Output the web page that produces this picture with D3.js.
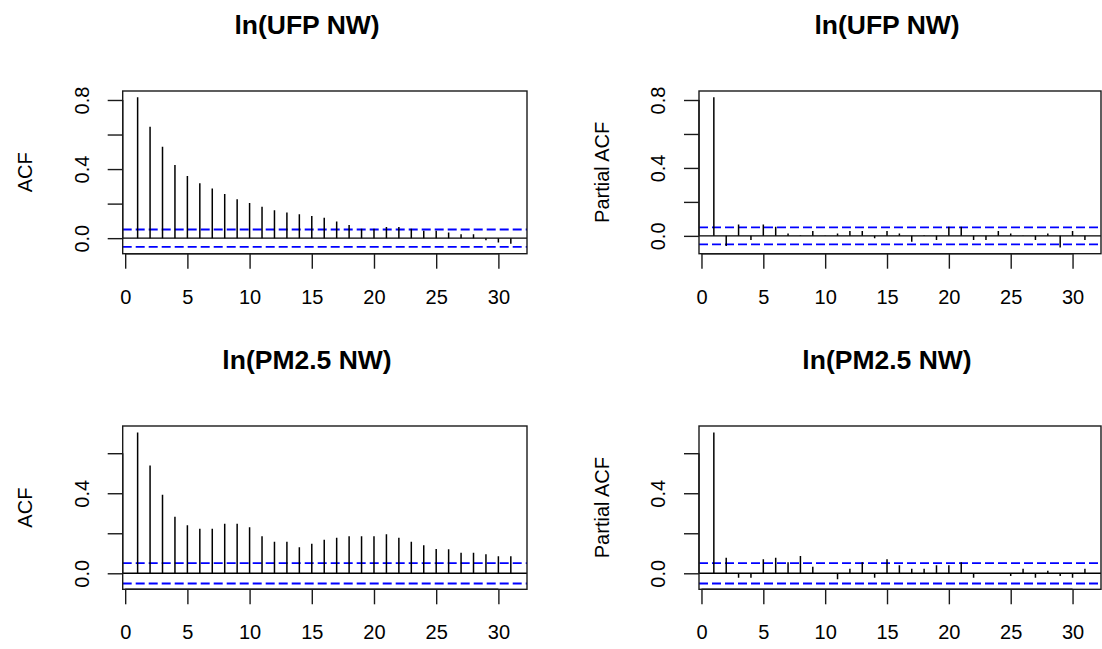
<!DOCTYPE html>
<html>
<head>
<meta charset="utf-8">
<script src="https://cdn.jsdelivr.net/npm/d3@7"></script>
<style>
  html, body { margin: 0; padding: 0; background: #fff; }
  svg { display: block; }
  text { font-family: "Liberation Sans", Arial, sans-serif; fill: #000; }
</style>
</head>
<body>
<svg id="chart" width="1102" height="649"></svg>
<script>
// ---- data ----
const lags = [1, 2, 3, 4, 5, 6, 7, 8, 9, 10, 11, 12, 13, 14, 15, 16, 17, 18, 19, 20, 21, 22, 23, 24, 25, 26, 27, 28, 29, 30, 31];
const xTickValues = [0, 5, 10, 15, 20, 25, 30];

const titles = ["ln(UFP NW)", "ln(UFP NW)", "ln(PM2.5 NW)", "ln(PM2.5 NW)"];
const yAxisTitles = ["ACF", "Partial ACF", "ACF", "Partial ACF"];

const acfUFP = [0.816, 0.645, 0.529, 0.424, 0.360, 0.318, 0.287, 0.256, 0.225, 0.203, 0.182, 0.161, 0.149, 0.139, 0.128, 0.118, 0.097, 0.076, 0.055, 0.055, 0.064, 0.064, 0.055, 0.043, 0.043, 0.033, 0.022, 0.022, -0.012, -0.025, -0.033];
const pacfUFP = [0.816, -0.059, 0.067, -0.025, 0.067, 0.053, 0.014, 0.003, 0.028, 0.002, 0.014, 0.028, 0.028, -0.014, 0.028, 0.014, -0.035, 0.003, -0.025, 0.053, 0.053, -0.025, -0.025, 0.028, 0.014, 0.002, -0.025, 0.014, -0.068, 0.028, -0.025];
const acfPM = [0.703, 0.538, 0.393, 0.283, 0.240, 0.222, 0.222, 0.248, 0.248, 0.230, 0.185, 0.158, 0.158, 0.130, 0.148, 0.167, 0.177, 0.185, 0.185, 0.185, 0.195, 0.177, 0.158, 0.140, 0.122, 0.120, 0.103, 0.103, 0.095, 0.085, 0.085];
const pacfPM = [0.703, 0.078, -0.022, -0.022, 0.070, 0.078, 0.055, 0.087, 0.033, 0.002, -0.030, 0.023, 0.055, -0.022, 0.070, 0.040, 0.023, 0.023, 0.040, 0.040, 0.055, -0.022, 0.002, 0.002, -0.013, 0.023, -0.022, 0.013, -0.013, -0.022, 0.023];

const ciBounds = [0.050, 0.050, 0.051, 0.051];
const yLimits = [[-0.090, 0.852], [-0.105, 0.853], [-0.080, 0.736], [-0.080, 0.736]];
const xLimits = [-0.2, 32.3];

const yTicksUpper = [0, 0.2, 0.4, 0.6, 0.8];
const yTickLabelsUpper = ["0.0", "", "0.4", "", "0.8"];
const yTicksLower = [0, 0.2, 0.4, 0.6];
const yTickLabelsLower = ["0.0", "", "0.4", ""];

// ---- layout (pixels) ----
const boxes = [
  { x0: 122.7, x1: 527, y0: 91, y1: 253.7, titleX: 307, titleY: 33.5 },
  { x0: 699, x1: 1101, y0: 91, y1: 253.7, titleX: 887, titleY: 33.5 },
  { x0: 122.7, x1: 527, y0: 426, y1: 589.3, titleX: 307, titleY: 368.5 },
  { x0: 699, x1: 1101, y0: 426, y1: 589.3, titleX: 887, titleY: 368.5 }
];

const panels = [
  { values: acfUFP, yTicks: yTicksUpper, yLabels: yTickLabelsUpper },
  { values: pacfUFP, yTicks: yTicksUpper, yLabels: yTickLabelsUpper },
  { values: acfPM, yTicks: yTicksLower, yLabels: yTickLabelsLower },
  { values: pacfPM, yTicks: yTicksLower, yLabels: yTickLabelsLower }
];

const svg = d3.select("#chart");
svg.append("rect").attr("width", 1102).attr("height", 649).attr("fill", "#fff");

const TICK = 15;
const FS = 20;
const FONT = '"Liberation Sans", Arial, sans-serif';

panels.forEach((p, i) => {
  const b = boxes[i];
  const x = d3.scaleLinear().domain(xLimits).range([b.x0, b.x1]);
  const y = d3.scaleLinear().domain(yLimits[i]).range([b.y1, b.y0]);
  const g = svg.append("g");

  const clipId = "clip" + i;
  svg.append("clipPath").attr("id", clipId)
    .append("rect").attr("x", b.x0).attr("y", b.y0)
    .attr("width", b.x1 - b.x0).attr("height", b.y1 - b.y0);

  const inner = g.append("g").attr("clip-path", `url(#${clipId})`);

  // zero line
  inner.append("line")
    .attr("x1", b.x0).attr("x2", b.x1)
    .attr("y1", y(0)).attr("y2", y(0))
    .attr("stroke", "#000").attr("stroke-width", 1.4);

  // CI lines
  [ciBounds[i], -ciBounds[i]].forEach(c => {
    inner.append("line")
      .attr("x1", b.x0).attr("x2", b.x1)
      .attr("y1", y(c)).attr("y2", y(c))
      .attr("stroke", "#0000FF").attr("stroke-width", 1.8)
      .attr("stroke-dasharray", "9,4");
  });

  // spikes
  inner.selectAll("line.spike").data(p.values).enter().append("line")
    .attr("class", "spike")
    .attr("x1", (d, k) => x(lags[k])).attr("x2", (d, k) => x(lags[k]))
    .attr("y1", y(0)).attr("y2", d => y(d))
    .attr("stroke", "#000").attr("stroke-width", 1.5);

  // box
  g.append("rect")
    .attr("x", b.x0).attr("y", b.y0)
    .attr("width", b.x1 - b.x0).attr("height", b.y1 - b.y0)
    .attr("fill", "none").attr("stroke", "#1a1a1a").attr("stroke-width", 1.4);

  // x axis
  const xa = g.append("g").attr("transform", `translate(0,${b.y1})`)
    .call(d3.axisBottom(x).tickValues(xTickValues).tickSize(TICK).tickSizeOuter(0).tickFormat(d3.format("d")));
  xa.select(".domain").attr("d", `M${x(xTickValues[0])},0H${x(xTickValues[xTickValues.length - 1])}`)
    .attr("stroke", "#1a1a1a").attr("stroke-width", 1.4);
  xa.selectAll(".tick line").attr("stroke", "#1a1a1a").attr("stroke-width", 1.4);
  xa.selectAll(".tick text").attr("y", 50).attr("dy", null)
    .attr("font-size", FS).style("font-family", FONT).attr("fill", "#000");

  // y axis
  const ya = g.append("g").attr("transform", `translate(${b.x0},0)`)
    .call(d3.axisLeft(y).tickValues(p.yTicks).tickSize(TICK).tickSizeOuter(0)
      .tickFormat((d, k) => p.yLabels[k]));
  ya.select(".domain").attr("d", `M0,${y(p.yTicks[0])}V${y(p.yTicks[p.yTicks.length - 1])}`)
    .attr("stroke", "#1a1a1a").attr("stroke-width", 1.4);
  ya.selectAll(".tick line").attr("stroke", "#1a1a1a").attr("stroke-width", 1.4);
  ya.selectAll(".tick text")
    .attr("x", null).attr("dy", null)
    .attr("text-anchor", "middle")
    .attr("transform", "translate(-34,0) rotate(-90)")
    .attr("font-size", FS).style("font-family", FONT).attr("fill", "#000");

  // y axis title
  g.append("text")
    .attr("transform", `translate(${b.x0 - 90.5},${(b.y0 + b.y1) / 2}) rotate(-90)`)
    .attr("text-anchor", "middle")
    .attr("font-size", FS)
    .text(yAxisTitles[i]);

  // title
  g.append("text")
    .attr("x", b.titleX).attr("y", b.titleY)
    .attr("text-anchor", "middle")
    .attr("font-size", 26.5).attr("font-weight", "bold")
    .text(titles[i]);
});
</script>
</body>
</html>
